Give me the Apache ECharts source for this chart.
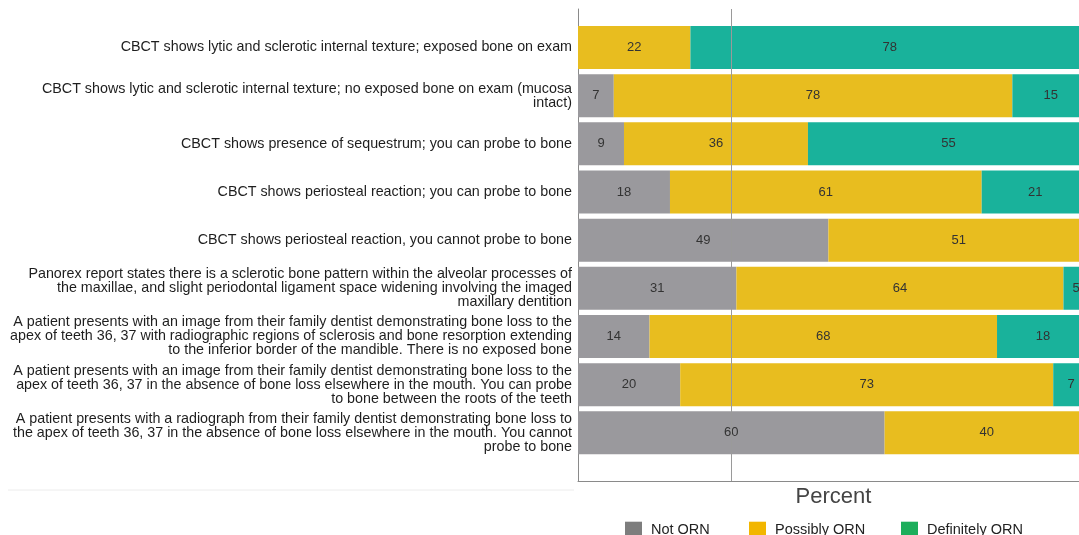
<!DOCTYPE html>
<html>
<head>
<meta charset="utf-8">
<script src="https://cdn.jsdelivr.net/npm/echarts@6/dist/echarts.min.js"></script>
<style>html,body{margin:0;padding:0;background:#fff;}#chart{width:1079px;height:535px;}</style>
</head>
<body>
<div id="chart"></div>
<script>
var categories = [
  "CBCT shows lytic and sclerotic internal texture; exposed bone on exam",
  "CBCT shows lytic and sclerotic internal texture; no exposed bone on exam (mucosa\nintact)",
  "CBCT shows presence of sequestrum; you can probe to bone",
  "CBCT shows periosteal reaction; you can probe to bone",
  "CBCT shows periosteal reaction, you cannot probe to bone",
  "Panorex report states there is a sclerotic bone pattern within the alveolar processes of\nthe maxillae, and slight periodontal ligament space widening involving the imaged\nmaxillary dentition",
  "A patient presents with an image from their family dentist demonstrating bone loss to the\napex of teeth 36, 37 with radiographic regions of sclerosis and bone resorption extending\nto the inferior border of the mandible. There is no exposed bone",
  "A patient presents with an image from their family dentist demonstrating bone loss to the\napex of teeth 36, 37 in the absence of bone loss elsewhere in the mouth. You can probe\nto bone between the roots of the teeth",
  "A patient presents with a radiograph from their family dentist demonstrating bone loss to\nthe apex of teeth 36, 37 in the absence of bone loss elsewhere in the mouth. You cannot\nprobe to bone"
];
var notORN     = [0, 7, 9, 18, 49, 31, 14, 20, 60];
var possibly   = [22, 78, 36, 61, 51, 64, 68, 73, 40];
var definitely = [78, 15, 55, 21, 0, 5, 18, 7, 0];
var seriesNames = ["Not ORN", "Possibly ORN", "Definitely ORN"];
var referenceValue = 30;

var chart = echarts.init(document.getElementById('chart'), null, {renderer: 'canvas'});
var FONT = '"Liberation Sans", Arial, sans-serif';
var barColors = ['#9a999d', '#e8bd1f', '#19b29b'];
var legendColors = ['#7d7d7d', '#f2b600', '#1cae5b'];
var legendLefts = [625, 749, 901];

function labelCfg() {
  return {
    show: true, position: 'inside', color: '#333', fontSize: 13, fontFamily: FONT,
    formatter: function (p) { return p.value ? String(p.value) : ''; }
  };
}
function barSeries(name, data, idx) {
  return {
    name: name, type: 'bar', stack: 'total', data: data,
    xAxisIndex: 1, yAxisIndex: 1, barWidth: 43,
    itemStyle: {color: barColors[idx]},
    label: labelCfg(), silent: true
  };
}

chart.setOption({
  animation: false,
  backgroundColor: '#fff',
  grid: [
    {left: 578, width: 511, top: 9, bottom: 54, containLabel: false, outerBoundsMode: 'none'},
    {left: 578, width: 511, top: 23.4, bottom: 78.1, containLabel: false, outerBoundsMode: 'none'}
  ],
  xAxis: [
    {gridIndex: 0, type: 'value', min: 0, max: 100,
     axisLine: {show: true, lineStyle: {color: '#8a8a8a', width: 1}},
     axisTick: {show: false}, axisLabel: {show: false}, splitLine: {show: false},
     name: 'Percent', nameLocation: 'middle', nameGap: 5,
     nameTextStyle: {fontSize: 22, color: '#444', fontFamily: FONT, verticalAlign: 'top'}},
    {gridIndex: 1, type: 'value', min: 0, max: 100, show: false}
  ],
  yAxis: [
    {gridIndex: 0, type: 'value', min: 0, max: 1,
     axisLine: {show: true, lineStyle: {color: '#8a8a8a', width: 1}},
     axisTick: {show: false}, axisLabel: {show: false}, splitLine: {show: false}},
    {gridIndex: 1, type: 'category', data: categories, inverse: true,
     axisLine: {show: false},
     axisTick: {show: false},
     axisLabel: {margin: 6, fontSize: 14.3, lineHeight: 14, color: '#1e1e1e', fontFamily: FONT, align: 'right'}}
  ],
  legend: seriesNames.map(function (n, i) {
    return {
      left: legendLefts[i], top: 521.7, padding: 0, itemWidth: 17, itemHeight: 16,
      icon: 'rect',
      textStyle: {fontSize: 14.5, color: '#222', fontFamily: FONT, padding: [0, 0, 0, 4]},
      data: [{name: n, itemStyle: {color: legendColors[i]}}]
    };
  }),
  graphic: [
    {type: 'line', shape: {x1: 8, y1: 490, x2: 574, y2: 490}, style: {stroke: '#ececec', lineWidth: 1}, silent: true}
  ],
  series: [
    {type: 'line', xAxisIndex: 0, yAxisIndex: 0, data: [], silent: true,
     markLine: {silent: true, symbol: 'none', label: {show: false},
       lineStyle: {color: '#9a9a9a', width: 1, type: 'solid'},
       data: [{xAxis: referenceValue}]}},
    barSeries(seriesNames[0], notORN, 0),
    barSeries(seriesNames[1], possibly, 1),
    barSeries(seriesNames[2], definitely, 2)
  ]
});
</script>
</body>
</html>
